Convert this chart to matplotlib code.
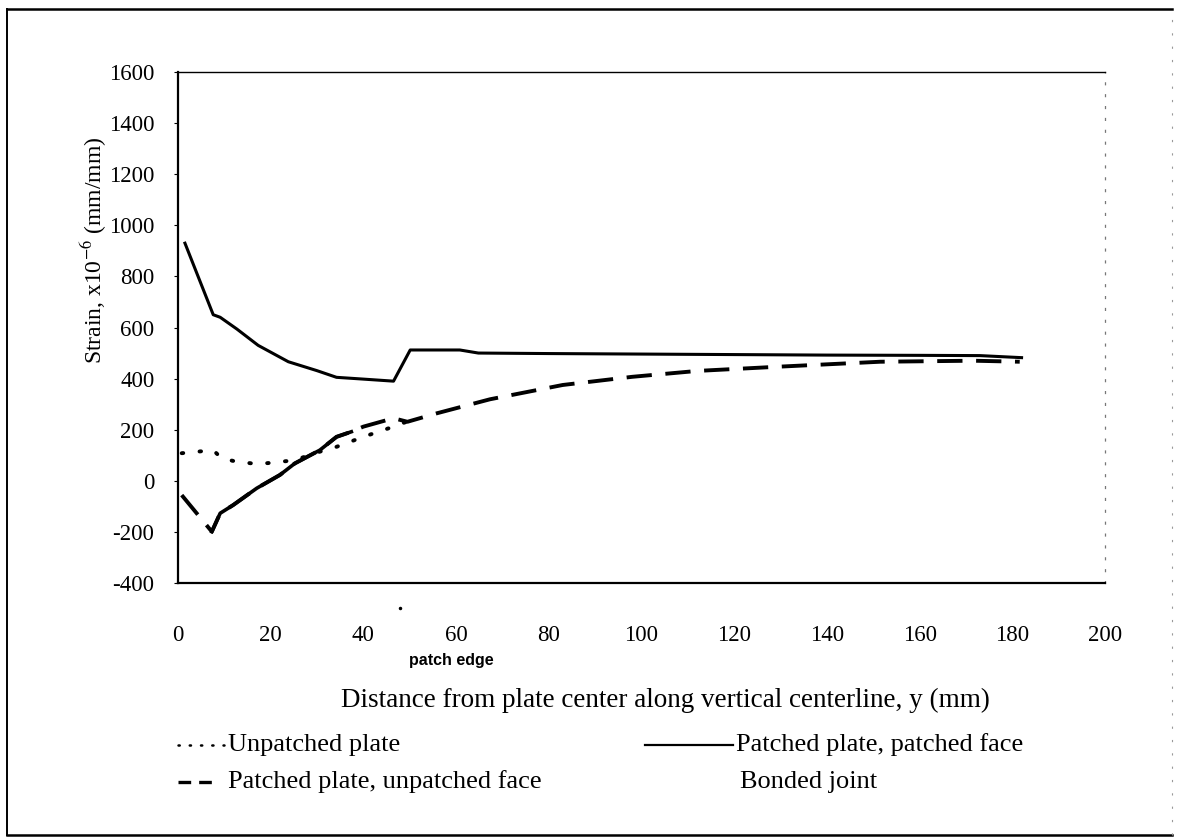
import matplotlib
matplotlib.use("Agg")
import matplotlib.pyplot as plt
from matplotlib.lines import Line2D

plt.rcParams['font.family'] = ['Liberation Serif', 'DejaVu Serif']
plt.rcParams['mathtext.fontset'] = 'stix'
plt.rcParams['axes.unicode_minus'] = False

# patched plate, patched face (solid)
dist_patched = [1.5, 7.6, 9.1, 12.7, 17.3, 23.8, 30, 34.2, 40, 46.5, 50.1, 60.8, 64.8,
                80, 100, 120, 140, 160, 173, 182]
strain_patched = [930, 650, 640, 594, 530, 466, 431, 405, 398, 390, 512, 512, 500,
                  498, 496, 494, 492, 491, 490, 482]

# patched plate, unpatched face (dashed)
dist_unpatched_face = [0.8, 7.3, 9.1, 11.9, 17, 22, 25.2, 30.6, 34.2, 37.4, 40, 46.5, 49.5,
                       55.8, 67.3, 83, 98, 112, 130, 151.5, 171.6, 181.6]
strain_unpatched_face = [-56, -199, -127, -95, -29, 23, 68, 120, 172, 192, 212, 245, 231,
                         264, 319, 375, 407, 430, 447, 466, 470, 466]

# unpatched plate (dotted), hidden under the dashed curve past the patch edge
dist_unpatched = [0.8, 7.6, 9.4, 12.6, 17, 20.6, 25.2, 30.6, 34.2, 40, 46.5, 49.3]
strain_unpatched = [108, 120, 88, 75, 66, 71, 81, 114, 133, 172, 212, 231]

# bonded joint region (drawn solid)
dist_bonded = [7.3, 9.1, 11.9, 17, 22, 25.2, 30.6, 34.2, 37.4]
strain_bonded = [-199, -127, -95, -29, 23, 68, 120, 172, 192]

patch_edge = 48
x_ticks = list(range(0, 201, 20))
y_ticks = list(range(-400, 1601, 200))

fig = plt.figure(figsize=(11.79, 8.40), dpi=100)
ax = fig.add_axes([178 / 1179, 1 - 583 / 840, (1105 - 178) / 1179, (583 - 72) / 840])

ax.plot(dist_unpatched, strain_unpatched, color='black', lw=2.8,
        linestyle=(0, (0.4, 4.2)), dash_capstyle='round')
ax.plot(dist_unpatched_face, strain_unpatched_face, color='black', lw=2.8,
        linestyle=(0, (6.5, 3.5)))
ax.plot(dist_bonded, strain_bonded, color='black', lw=2.6)
ax.plot(dist_patched, strain_patched, color='black', lw=2.2)

ax.plot([patch_edge], [-498], 'k.', ms=3, clip_on=False)
ax.text(59, -702, 'patch edge', family='Liberation Sans', fontweight='bold',
        fontsize=11.5, ha='center', va='center')

ax.set_xlim(0, 200)
ax.set_ylim(-400, 1600)
ax.set_xticks(x_ticks)
ax.set_yticks(y_ticks)
ax.tick_params(axis='x', length=0, pad=30, labelsize=16.5)
ax.tick_params(axis='y', length=3, width=0.8, pad=14, labelsize=16.5)

for side in ['left', 'bottom']:
    ax.spines[side].set_linewidth(1.6)
ax.spines['top'].set_linewidth(1.0)
ax.spines['right'].set_linestyle((0, (1.5, 8)))
ax.spines['right'].set_color('#777777')
ax.spines['right'].set_linewidth(0.9)

fig.text(94 / 1179, 1 - 250 / 840, 'Strain, x10$^{-6}$ (mm/mm)', rotation=90,
         ha='center', va='center', fontsize=17)
fig.text(665 / 1179, 1 - 700 / 840,
         'Distance from plate center along vertical centerline, y (mm)',
         ha='center', va='center', fontsize=19.5)

# legend drawn by hand below the axes
def legend_item(x0, x1, y, text_x, label, **line_kw):
    yf = 1 - y / 840
    if line_kw:
        fig.add_artist(Line2D([x0 / 1179, x1 / 1179], [yf, yf], color='black', **line_kw))
    fig.text(text_x / 1179, yf, label, ha='left', va='center', fontsize=19)

legend_item(178, 224, 745, 228, 'Unpatched plate', lw=1.8,
            linestyle=(0, (0.5, 4)), dash_capstyle='round')
legend_item(645, 733, 745, 736, 'Patched plate, patched face', lw=1.6)
legend_item(178, 218, 782, 228, 'Patched plate, unpatched face', lw=2.4,
            linestyle=(0, (3.8, 2.4)))
legend_item(0, 0, 782, 740, 'Bonded joint')

# outer frame
fx0, fx1, fy0, fy1 = 7 / 1179, 1172 / 1179, 1 - 835 / 840, 1 - 9 / 840
fig.add_artist(Line2D([fx0, fx1], [fy1, fy1], color='black', lw=1.8))
fig.add_artist(Line2D([fx0, fx0], [fy0, fy1], color='black', lw=1.4))
fig.add_artist(Line2D([fx0, fx1], [fy0, fy0], color='black', lw=1.8))
fig.add_artist(Line2D([fx1, fx1], [fy0, fy1], color='#999999', lw=0.8,
                      linestyle=(0, (2, 10))))

fig.savefig('out.png', dpi=100)
